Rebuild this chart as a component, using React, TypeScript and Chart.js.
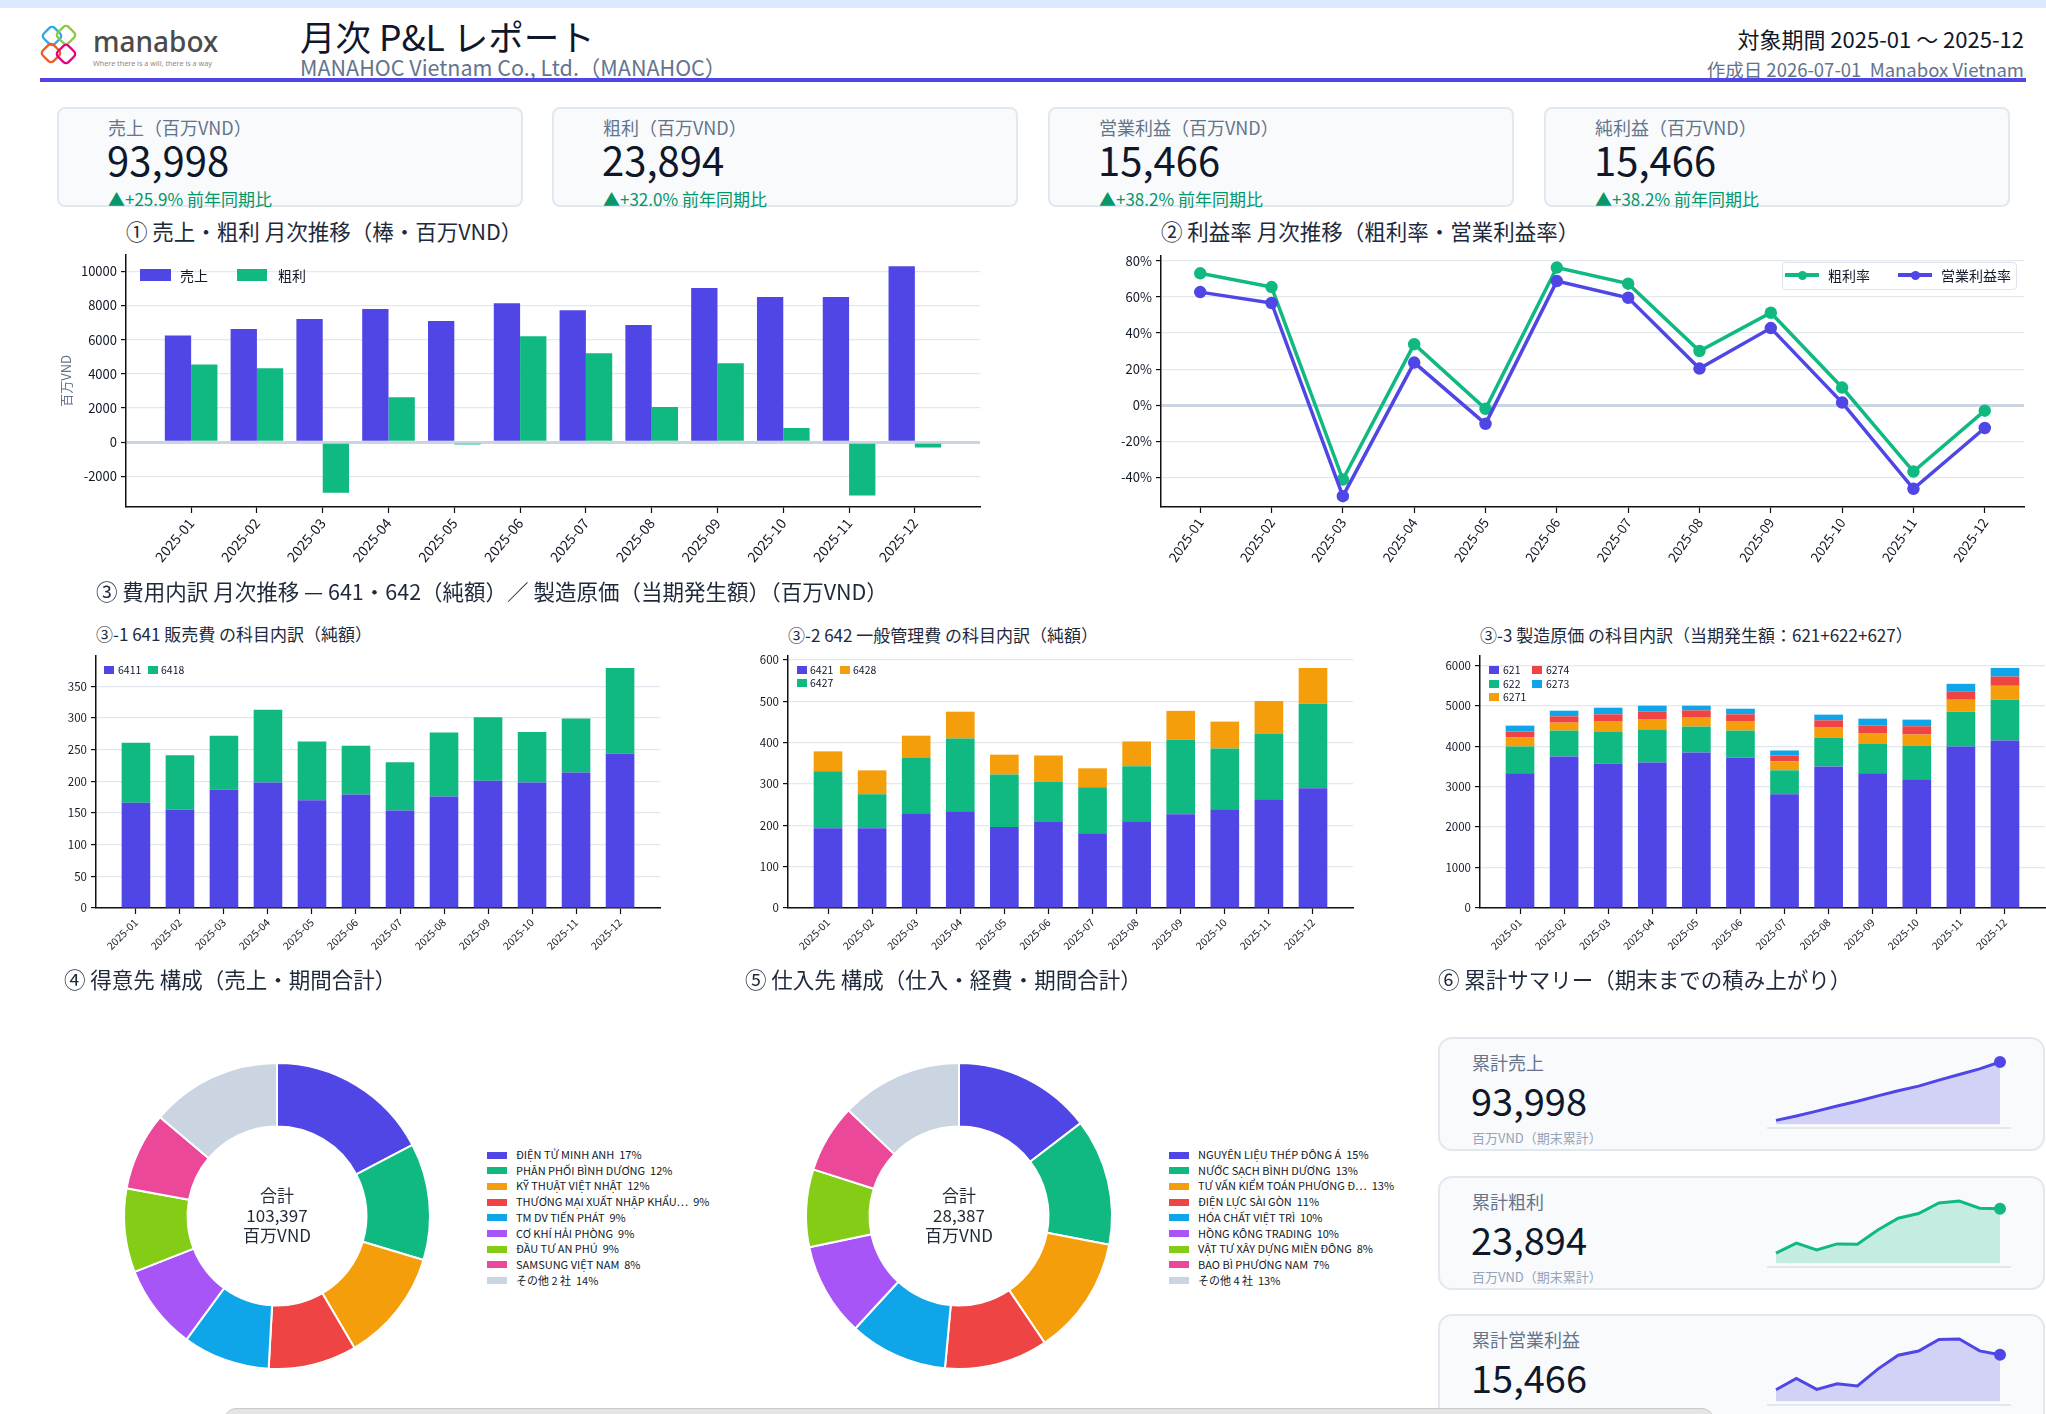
import React, { useEffect, useRef } from "react";
import { Chart, registerables } from "chart.js";

Chart.register(...registerables);

const FONT = '"Noto Sans CJK JP", "Noto Sans", sans-serif';
Chart.defaults.font.family = FONT;
Chart.defaults.color = "#111827";

// ---------- data (百万VND) ----------
const months = [
  "2025-01", "2025-02", "2025-03", "2025-04", "2025-05", "2025-06",
  "2025-07", "2025-08", "2025-09", "2025-10", "2025-11", "2025-12",
];

const monthlySales = [6240, 6620, 7210, 7790, 7090, 8140, 7730, 6860, 9020, 8500, 8500, 10298];
const monthlyGross = [4554, 4330, -2960, 2630, -140, 6200, 5200, 2060, 4620, 830, -3120, -310];

const grossMarginPct = [73.0, 65.4, -41.1, 33.8, -2.0, 76.2, 67.3, 30.0, 51.2, 9.8, -36.7, -3.0];
const opMarginPct = [62.6, 56.6, -50.3, 23.6, -10.3, 68.7, 59.5, 20.3, 42.7, 1.5, -46.2, -12.6];

// 641 販売費
const acct6411 = [166, 155, 187, 198, 170, 179, 154, 176, 201, 198, 214, 244];
const acct6418 = [95, 86, 85, 115, 93, 77, 76, 101, 100, 80, 85, 135];

// 642 一般管理費
const acct6421 = [193, 193, 229, 234, 196, 208, 181, 210, 227, 239, 263, 290];
const acct6427 = [138, 82, 135, 176, 127, 98, 111, 133, 181, 147, 159, 204];
const acct6428 = [48, 58, 53, 65, 48, 63, 46, 60, 69, 65, 79, 87];

// 製造原価
const acct621 = [3328, 3746, 3574, 3598, 3844, 3721, 2811, 3500, 3328, 3180, 3992, 4139];
const acct622 = [664, 639, 787, 812, 640, 664, 591, 713, 738, 836, 860, 1009];
const acct6271 = [221, 197, 246, 246, 221, 222, 221, 246, 245, 271, 296, 344];
const acct6274 = [148, 156, 180, 196, 180, 180, 147, 180, 197, 205, 196, 229];
const acct6273 = [147, 139, 164, 148, 115, 139, 123, 140, 172, 164, 197, 213];

// 得意先
const customerNames = [
  "ĐIỆN TỬ MINH ANH", "PHÂN PHỐI BÌNH DƯƠNG", "KỸ THUẬT VIỆT NHẬT",
  "THƯƠNG MẠI XUẤT NHẬP KHẨU…", "TM DV TIẾN PHÁT", "CƠ KHÍ HẢI PHÒNG",
  "ĐẦU TƯ AN PHÚ", "SAMSUNG VIỆT NAM", "その他 2 社",
];
const customerValues = [17900, 12750, 12300, 9650, 9500, 9300, 9150, 8547, 14300];

// 仕入先
const supplierNames = [
  "NGUYÊN LIỆU THÉP ĐÔNG Á", "NƯỚC SẠCH BÌNH DƯƠNG", "TƯ VẤN KIỂM TOÁN PHƯƠNG Đ…",
  "ĐIỆN LỰC SÀI GÒN", "HÓA CHẤT VIỆT TRÌ", "HỒNG KÔNG TRADING",
  "VẬT TƯ XÂY DỰNG MIỀN ĐÔNG", "BAO BÌ PHƯƠNG NAM", "その他 4 社",
];
const supplierValues = [4150, 3800, 3560, 3100, 2950, 2800, 2330, 2050, 3647];

// 累計
const cumSales = [6240, 12860, 20070, 27860, 34950, 43090, 50820, 57680, 66700, 75200, 83700, 93998];
const cumGross = [4554, 8884, 5924, 8554, 8414, 14614, 19814, 21874, 26494, 27324, 24204, 23894];
const cumOperating = [3906, 7653, 4023, 5861, 5131, 10723, 15322, 16715, 20567, 20696, 16766, 15466];

// KPI
const kpiTitles = ["売上（百万VND）", "粗利（百万VND）", "営業利益（百万VND）", "純利益（百万VND）"];
const kpiValues = [93998, 23894, 15466, 15466];
const kpiYoY = [25.9, 32.0, 38.2, 38.2];

// ---------- style ----------
const INDIGO = "#4f46e5";
const GREEN = "#10b981";
const ORANGE = "#f59e0b";
const RED = "#ef4444";
const SKY = "#0ea5e9";
const PURPLE = "#a855f7";
const LIME = "#84cc16";
const PINK = "#ec4899";
const SLATE = "#cbd5e1";
const PIE_COLORS = [INDIGO, GREEN, ORANGE, RED, SKY, PURPLE, LIME, PINK, SLATE];

const TICK = "#111827";
const AXIS = "#111111";
const GRID = "#e2e8f0";
const ZERO = "#cbd5e1";

const fmt = (n: number) => n.toLocaleString("en-US");

function monthAxis(min: number, max: number, rotation: number, size: number, height: number, stacked = false) {
  return {
    type: "linear",
    min,
    max,
    offset: false,
    stacked,
    afterBuildTicks: (axis: any) => {
      axis.ticks = months.map((_, i) => ({ value: i }));
    },
    afterFit: (axis: any) => {
      axis.height = height;
    },
    ticks: {
      autoSkip: false,
      minRotation: rotation,
      maxRotation: rotation,
      padding: 2,
      color: TICK,
      font: { size },
      callback: (v: any) => months[v] ?? "",
    },
    grid: {
      display: true,
      drawOnChartArea: false,
      drawTicks: true,
      tickLength: 6,
      tickColor: AXIS,
      tickWidth: 1.2,
      offset: false,
    },
    border: { display: true, color: AXIS, width: 1.5 },
  };
}

function valueAxis(
  min: number,
  max: number,
  step: number,
  size: number,
  width: number,
  opts: { format?: (v: number) => string; zero?: boolean; stacked?: boolean; title?: string } = {}
) {
  return {
    type: "linear",
    min,
    max,
    stacked: !!opts.stacked,
    afterBuildTicks: (axis: any) => {
      const ticks: { value: number }[] = [];
      for (let v = Math.ceil(min / step) * step; v <= max + 1e-9; v += step) ticks.push({ value: v });
      axis.ticks = ticks;
    },
    afterFit: (axis: any) => {
      axis.width = width;
    },
    ticks: {
      padding: 4,
      color: TICK,
      font: { size },
      callback: opts.format ?? ((v: any) => String(v)),
    },
    grid: {
      color: (c: any) => (opts.zero && c.tick && c.tick.value === 0 ? ZERO : GRID),
      lineWidth: (c: any) => (opts.zero && c.tick && c.tick.value === 0 ? 3 : 1.2),
      tickColor: AXIS,
      tickLength: 5,
      tickWidth: 1.2,
    },
    border: { display: true, color: AXIS, width: 1.5 },
    title: opts.title
      ? { display: true, text: opts.title, color: "#64748b", font: { size: 13 }, padding: { top: 2, bottom: 0 } }
      : { display: false },
  };
}

const baseOptions = (padding: any) => ({
  responsive: false,
  animation: false as const,
  events: [] as any[],
  layout: { padding },
  plugins: { legend: { display: false }, tooltip: { enabled: false } },
});

const xy = (arr: number[]) => arr.map((y, x) => ({ x, y }));

// ---------- chart configs ----------
const salesGrossConfig = () => ({
  type: "bar",
  data: {
    datasets: [
      { label: "売上", data: xy(monthlySales), backgroundColor: INDIGO, categoryPercentage: 0.8, barPercentage: 1 },
      { label: "粗利", data: xy(monthlyGross), backgroundColor: GREEN, categoryPercentage: 0.8, barPercentage: 1 },
    ],
  },
  options: {
    ...baseOptions({ top: 10, right: 10, left: 0, bottom: 0 }),
    scales: {
      x: monthAxis(-0.99, 11.99, 50, 14, 70),
      y: valueAxis(-3791, 10969, 2000, 13, 70, { zero: true, title: "百万VND" }),
    },
  },
});

const marginConfig = () => ({
  type: "line",
  data: {
    datasets: [
      {
        label: "営業利益率",
        data: xy(opMarginPct),
        borderColor: INDIGO,
        backgroundColor: INDIGO,
        pointBackgroundColor: INDIGO,
        pointBorderColor: INDIGO,
        borderWidth: 3.5,
        pointRadius: 4.5,
        tension: 0,
      },
      {
        label: "粗利率",
        data: xy(grossMarginPct),
        borderColor: GREEN,
        backgroundColor: GREEN,
        pointBackgroundColor: GREEN,
        pointBorderColor: GREEN,
        borderWidth: 3.5,
        pointRadius: 4.5,
        tension: 0,
      },
    ],
  },
  options: {
    ...baseOptions({ top: 10, right: 12, left: 0, bottom: 0 }),
    scales: {
      x: monthAxis(-0.55, 11.55, 55, 13.5, 70),
      y: valueAxis(-56.3, 82.7, 20, 13, 60, { zero: true, format: (v) => `${v}%` }),
    },
  },
});

const stackedConfig = (series: { label: string; data: number[]; color: string }[], max: number, step: number, rightPad: number) => ({
  type: "bar",
  data: {
    datasets: series.map((s) => ({
      label: s.label,
      data: xy(s.data),
      backgroundColor: s.color,
      categoryPercentage: 0.65,
      barPercentage: 1,
    })),
  },
  options: {
    ...baseOptions({ top: 10, right: rightPad, left: 0, bottom: 0 }),
    scales: {
      x: monthAxis(-0.9075, 11.9075, 45, 10.5, 62, true),
      y: valueAxis(0, max, step, 11.5, 48, { stacked: true }),
    },
  },
});

const donutConfig = (names: string[], values: number[]) => ({
  type: "doughnut",
  data: {
    labels: names,
    datasets: [{ data: values, backgroundColor: PIE_COLORS, borderColor: "#ffffff", borderWidth: 2 }],
  },
  options: {
    ...baseOptions(6),
    cutout: "58.5%",
  },
});

const sparkConfig = (values: number[], color: string, fill: string) => ({
  type: "line",
  data: {
    labels: months,
    datasets: [
      {
        data: values,
        borderColor: color,
        backgroundColor: fill,
        pointBackgroundColor: color,
        pointBorderColor: color,
        borderWidth: 3,
        fill: "origin",
        tension: 0,
        clip: false,
        pointRadius: (c: any) => (c.dataIndex === values.length - 1 ? 4.5 : 0),
      },
    ],
  },
  options: {
    ...baseOptions({ left: 10, right: 10, top: 10, bottom: 5 }),
    scales: {
      x: { display: false, offset: false },
      y: { display: false, min: 0, max: Math.max(...values) },
    },
  },
});

// ---------- components ----------
function ChartCanvas({ left, top, width, height, make }: any) {
  const ref = useRef<HTMLCanvasElement>(null);
  useEffect(() => {
    const chart = new Chart(ref.current as HTMLCanvasElement, make() as any);
    return () => chart.destroy();
  }, []);
  return (
    <canvas
      ref={ref}
      width={width}
      height={height}
      style={{ position: "absolute", left, top, width, height }}
    />
  );
}

function Txt({ x, y, size, color = "#0f172a", right, children, style }: any) {
  const s: any = {
    position: "absolute",
    top: y,
    fontSize: size,
    lineHeight: 1,
    color,
    whiteSpace: "pre",
    fontFamily: FONT,
    ...style,
  };
  if (right !== undefined) s.right = right;
  else s.left = x;
  return <div style={s}>{children}</div>;
}

function Swatch({ x, y, w, h, color, style }: any) {
  return <div style={{ position: "absolute", left: x, top: y, width: w, height: h, background: color, ...style }} />;
}

function Card({ x, y, w, h, radius }: any) {
  return (
    <div
      style={{
        position: "absolute",
        left: x,
        top: y,
        width: w,
        height: h,
        boxSizing: "border-box",
        background: "#f8fafc",
        border: "2px solid #e2e8f0",
        borderRadius: radius,
      }}
    />
  );
}

function Logo() {
  const petal = (cx: number, cy: number, color: string) => (
    <rect
      x={-7.5}
      y={-7.5}
      width={15}
      height={15}
      rx={3.5}
      transform={`translate(${cx} ${cy}) rotate(45)`}
      stroke={color}
    />
  );
  return (
    <svg style={{ position: "absolute", left: 38, top: 20 }} width={190} height={52} viewBox="0 0 190 52">
      <g fill="none" strokeWidth={2.3} strokeLinejoin="round">
        {petal(14, 16, "#29abe2")}
        {petal(28, 15, "#8dc63f")}
        {petal(13, 33, "#f15a24")}
        {petal(28, 34, "#e6007e")}
      </g>
      <text x={55} y={32} fontFamily='"Noto Sans", sans-serif' fontSize={28} fontWeight={500} fill="#4b4b4b">
        manabox
      </text>
      <text
        x={55}
        y={46}
        fontFamily='"Noto Sans", sans-serif'
        fontSize={7}
        fill="#8a8a8a"
        textLength={119}
        lengthAdjust="spacingAndGlyphs"
      >
        Where there is a will, there is a way
      </text>
    </svg>
  );
}

function DonutLegend({ x, names, values }: any) {
  const total = values.reduce((a: number, b: number) => a + b, 0);
  return (
    <>
      {names.map((n: string, i: number) => {
        const yc = 1155 + i * 15.7;
        return (
          <React.Fragment key={n}>
            <Swatch x={x} y={yc - 3.5} w={20} h={7} color={PIE_COLORS[i]} />
            <Txt x={x + 29} y={yc - 6} size={11} color="#111827">
              {`${n}  ${Math.round((values[i] / total) * 100)}%`}
            </Txt>
          </React.Fragment>
        );
      })}
    </>
  );
}

function DonutCenter({ cx, values }: any) {
  const total = values.reduce((a: number, b: number) => a + b, 0);
  return (
    <div
      style={{
        position: "absolute",
        left: cx - 100,
        top: 1185,
        width: 200,
        textAlign: "center",
        fontSize: 17,
        lineHeight: "20px",
        color: "#1f2937",
        fontFamily: FONT,
      }}
    >
      <div>合計</div>
      <div>{fmt(total)}</div>
      <div>百万VND</div>
    </div>
  );
}

function SummaryCard({ top, label, values, color, fill }: any) {
  return (
    <>
      <Card x={1438} y={top} w={607} h={114} radius={14} />
      <Txt x={1472} y={top + 16} size={18} color="#64748b">{label}</Txt>
      <Txt x={1471} y={top + 44} size={38} color="#0f172a">{fmt(values[values.length - 1])}</Txt>
      <Txt x={1472} y={top + 94} size={13} color="#94a3b8">百万VND（期末累計）</Txt>
      <Swatch x={1767} y={top + 90} w={244} h={2} color="#e2e8f0" />
      <ChartCanvas left={1766} top={top + 15} width={244} height={80} make={() => sparkConfig(values, color, fill)} />
    </>
  );
}

export default function App() {
  const kpiLefts = [57, 552, 1048, 1544];
  return (
    <div
      style={{
        position: "fixed",
        left: 0,
        top: 0,
        width: 2046,
        height: 1414,
        overflow: "hidden",
        background: "#ffffff",
        fontFamily: FONT,
      }}
    >
      {/* header */}
      <Swatch x={0} y={0} w={2046} h={8} color="#dbeafe" />
      <Logo />
      <Txt x={300} y={18} size={35.5} color="#0f172a">月次 P&L レポート</Txt>
      <Txt x={300} y={56} size={21.5} color="#64748b">MANAHOC Vietnam Co., Ltd.（MANAHOC）</Txt>
      <Txt right={22} y={27} size={22} color="#111827">対象期間 2025-01 ～ 2025-12</Txt>
      <Txt right={22} y={60} size={18.5} color="#64748b">作成日 2026-07-01  Manabox Vietnam</Txt>
      <Swatch x={40} y={78} w={1986} h={4} color={INDIGO} />

      {/* KPI cards */}
      {kpiTitles.map((t, i) => (
        <React.Fragment key={t}>
          <Card x={kpiLefts[i]} y={107} w={466} h={100} radius={8} />
          <Txt x={kpiLefts[i] + 51} y={118} size={18} color="#64748b">{t}</Txt>
          <Txt x={kpiLefts[i] + 50} y={139} size={40} color="#0f172a">{fmt(kpiValues[i])}</Txt>
          <Txt x={kpiLefts[i] + 51} y={190} size={17} color="#059669">{`▲+${kpiYoY[i].toFixed(1)}% 前年同期比`}</Txt>
        </React.Fragment>
      ))}

      {/* ① */}
      <Txt x={126} y={220} size={21.5} color="#1e293b">① 売上・粗利 月次推移（棒・百万VND）</Txt>
      <ChartCanvas left={56} top={243} width={934} height={334} make={salesGrossConfig} />
      <Swatch x={140} y={269} w={31} h={12} color={INDIGO} />
      <Txt x={180} y={268} size={14} color="#111827">売上</Txt>
      <Swatch x={237} y={269} w={30} h={12} color={GREEN} />
      <Txt x={278} y={268} size={14} color="#111827">粗利</Txt>

      {/* ② */}
      <Txt x={1161} y={220} size={21.5} color="#1e293b">② 利益率 月次推移（粗利率・営業利益率）</Txt>
      <ChartCanvas left={1101} top={244} width={935} height={333} make={marginConfig} />
      <div
        style={{
          position: "absolute",
          left: 1782,
          top: 262,
          width: 235,
          height: 28,
          boxSizing: "border-box",
          border: "1px solid #dde3ea",
          borderRadius: 4,
          background: "rgba(255,255,255,0.92)",
        }}
      />
      <Swatch x={1785} y={273} w={34} h={4} color={GREEN} />
      <Swatch x={1797.5} y={270.5} w={9} h={9} color={GREEN} style={{ borderRadius: "50%" }} />
      <Txt x={1828} y={268} size={14} color="#111827">粗利率</Txt>
      <Swatch x={1898} y={273} w={34} h={4} color={INDIGO} />
      <Swatch x={1910.5} y={270.5} w={9} h={9} color={INDIGO} style={{ borderRadius: "50%" }} />
      <Txt x={1941} y={268} size={14} color="#111827">営業利益率</Txt>

      {/* ③ */}
      <Txt x={96} y={580} size={21.5} color="#1e293b">③ 費用内訳 月次推移 — 641・642（純額）／ 製造原価（当期発生額）（百万VND）</Txt>

      <Txt x={96} y={625} size={17} color="#1e293b">③-1 641 販売費 の科目内訳（純額）</Txt>
      <ChartCanvas
        left={48}
        top={645}
        width={620}
        height={325}
        make={() =>
          stackedConfig(
            [
              { label: "6411", data: acct6411, color: INDIGO },
              { label: "6418", data: acct6418, color: GREEN },
            ],
            398,
            50,
            8
          )
        }
      />
      <Swatch x={104} y={666} w={10} h={8} color={INDIGO} />
      <Txt x={118} y={665} size={10.5}>6411</Txt>
      <Swatch x={148} y={666} w={10} h={8} color={GREEN} />
      <Txt x={161} y={665} size={10.5}>6418</Txt>

      <Txt x={788} y={626} size={17} color="#1e293b">③-2 642 一般管理費 の科目内訳（純額）</Txt>
      <ChartCanvas
        left={740}
        top={645}
        width={621}
        height={325}
        make={() =>
          stackedConfig(
            [
              { label: "6421", data: acct6421, color: INDIGO },
              { label: "6427", data: acct6427, color: GREEN },
              { label: "6428", data: acct6428, color: ORANGE },
            ],
            610,
            100,
            8
          )
        }
      />
      <Swatch x={797} y={666} w={10} h={8} color={INDIGO} />
      <Txt x={810} y={665} size={10.5}>6421</Txt>
      <Swatch x={840} y={666} w={10} h={8} color={ORANGE} />
      <Txt x={853} y={665} size={10.5}>6428</Txt>
      <Swatch x={797} y={679} w={10} h={8} color={GREEN} />
      <Txt x={810} y={678} size={10.5}>6427</Txt>

      <Txt x={1480} y={626} size={17} color="#1e293b">③-3 製造原価 の科目内訳（当期発生額：621+622+627）</Txt>
      <ChartCanvas
        left={1432}
        top={645}
        width={614}
        height={325}
        make={() =>
          stackedConfig(
            [
              { label: "621", data: acct621, color: INDIGO },
              { label: "622", data: acct622, color: GREEN },
              { label: "6271", data: acct6271, color: ORANGE },
              { label: "6274", data: acct6274, color: RED },
              { label: "6273", data: acct6273, color: SKY },
            ],
            6231,
            1000,
            1
          )
        }
      />
      <Swatch x={1489} y={666} w={10} h={8} color={INDIGO} />
      <Txt x={1503} y={665} size={10.5}>621</Txt>
      <Swatch x={1489} y={680} w={10} h={8} color={GREEN} />
      <Txt x={1503} y={679} size={10.5}>622</Txt>
      <Swatch x={1489} y={693} w={10} h={8} color={ORANGE} />
      <Txt x={1503} y={692} size={10.5}>6271</Txt>
      <Swatch x={1532} y={666} w={10} h={8} color={RED} />
      <Txt x={1546} y={665} size={10.5}>6274</Txt>
      <Swatch x={1532} y={680} w={10} h={8} color={SKY} />
      <Txt x={1546} y={679} size={10.5}>6273</Txt>

      {/* ④ */}
      <Txt x={64} y={968} size={21.5} color="#1e293b">④ 得意先 構成（売上・期間合計）</Txt>
      <ChartCanvas left={117} top={1056} width={320} height={320} make={() => donutConfig(customerNames, customerValues)} />
      <DonutCenter cx={277} values={customerValues} />
      <DonutLegend x={487} names={customerNames} values={customerValues} />

      {/* ⑤ */}
      <Txt x={745} y={968} size={21.5} color="#1e293b">⑤ 仕入先 構成（仕入・経費・期間合計）</Txt>
      <ChartCanvas left={799} top={1056} width={320} height={320} make={() => donutConfig(supplierNames, supplierValues)} />
      <DonutCenter cx={959} values={supplierValues} />
      <DonutLegend x={1169} names={supplierNames} values={supplierValues} />

      {/* ⑥ */}
      <Txt x={1438} y={968} size={21.5} color="#1e293b">⑥ 累計サマリー（期末までの積み上がり）</Txt>
      <SummaryCard top={1037} label="累計売上" values={cumSales} color={INDIGO} fill="rgba(79,70,229,0.22)" />
      <SummaryCard top={1176} label="累計粗利" values={cumGross} color={GREEN} fill="rgba(16,185,129,0.22)" />
      <SummaryCard top={1314} label="累計営業利益" values={cumOperating} color={INDIGO} fill="rgba(79,70,229,0.22)" />

      <div
        style={{
          position: "absolute",
          left: 224,
          top: 1408,
          width: 1490,
          height: 24,
          boxSizing: "border-box",
          borderRadius: 12,
          background: "#e5e5e5",
          border: "1px solid #c9c9c9",
        }}
      />
    </div>
  );
}
